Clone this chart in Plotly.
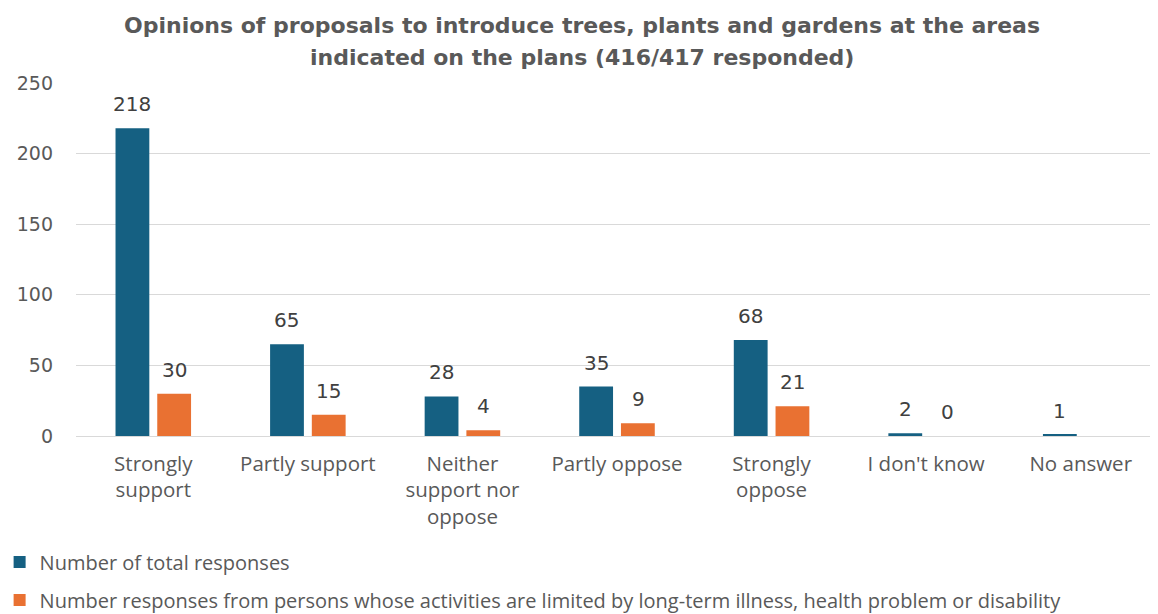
import plotly.graph_objects as go

categories = ["Strongly<br>support", "Partly support", "Neither<br>support nor<br>oppose",
              "Partly oppose", "Strongly<br>oppose", "I don't know", "No answer"]
total_responses = [218, 65, 28, 35, 68, 2, 1]
limited_responses = [30, 15, 4, 9, 21, 0, None]
series_names = ["Number of total responses",
                "Number responses from persons whose activities are limited by long-term illness, health problem or disability"]
colors = ["#156082", "#E97132"]
title_lines = ["Opinions of proposals to introduce trees, plants and gardens at the areas",
               "indicated on the plans (416/417 responded)"]

fig = go.Figure()
for i, (name, vals, col) in enumerate(zip(series_names, [total_responses, limited_responses], colors)):
    fig.add_trace(go.Bar(
        x=categories, y=vals, name=name,
        marker=dict(color=col, line=dict(width=0)),
        legendgroup=f"g{i}",
    ))

# data labels above bars, shifted to each bar of the group
label_font = dict(family="DejaVu Sans, sans-serif", size=20, color="#404040")
for i, vals in enumerate([total_responses, limited_responses]):
    shift = -21 if i == 0 else 21
    for c, v in zip(categories, vals):
        if v is None:
            continue
        fig.add_annotation(x=c, y=v, xref="x", yref="y", text=str(v), showarrow=False,
                           xshift=shift, yshift=10, yanchor="bottom", xanchor="center",
                           font=label_font)

title_font = dict(family="DejaVu Sans, sans-serif", size=22, color="#595959")
for k, line in enumerate(title_lines):
    fig.add_annotation(x=0.468, y=1.163 - k * 0.0907, xref="paper", yref="paper",
                       text=f"<b>{line}</b>", showarrow=False, xanchor="center", yanchor="middle",
                       font=title_font)

# page body has an 8px margin, so the figure is sized/offset to fill the 1158x614 window
fig.update_layout(
    width=1150, height=606,
    paper_bgcolor="white", plot_bgcolor="white",
    barmode="group", bargap=0.46, bargroupgap=0.19,
    margin=dict(l=68, r=0, t=75, b=178, autoexpand=False),
    xaxis=dict(
        tickfont=dict(family="Open Sans, sans-serif", size=20.5, color="#595959"),
        showline=True, linecolor="#d9d9d9", linewidth=1,
        ticks="", ticklabelstandoff=9, automargin=False,
    ),
    yaxis=dict(
        range=[0, 250], dtick=50,
        tickfont=dict(family="DejaVu Sans, sans-serif", size=19, color="#595959"),
        gridcolor="#d9d9d9", gridwidth=1, zeroline=False,
        ticklabelstandoff=22, automargin=False,
    ),
    legend=dict(
        orientation="v", x=-0.0706, xanchor="left", y=-0.302, yanchor="top",
        font=dict(family="Open Sans, sans-serif", size=20, color="#595959"),
        itemwidth=30, traceorder="grouped", tracegroupgap=9,
    ),
    showlegend=True,
)

fig.write_html("out.html")
